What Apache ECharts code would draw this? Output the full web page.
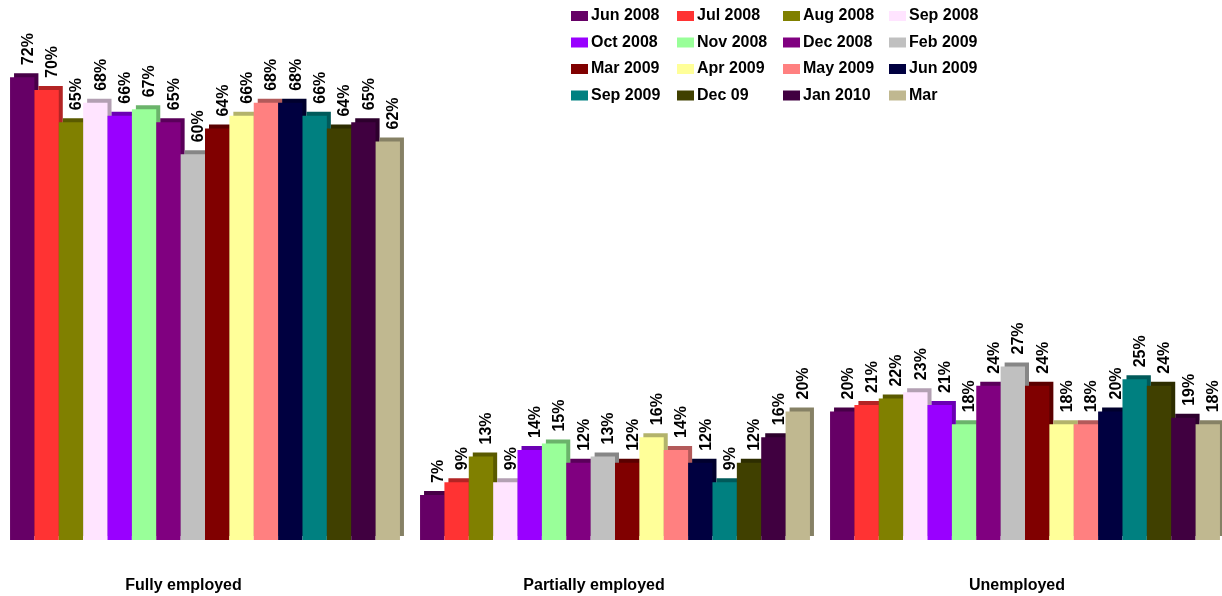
<!DOCTYPE html>
<html>
<head>
<meta charset="utf-8">
<script src="https://cdn.jsdelivr.net/npm/echarts@6/dist/echarts.min.js"></script>
<style>
  html, body { margin: 0; padding: 0; background: #ffffff; overflow: hidden; }
  #chart { width: 1230px; height: 596px; }
</style>
</head>
<body>
<div id="chart"></div>
<script>
// Employment status by survey wave
const categories = ['Fully employed', 'Partially employed', 'Unemployed'];

const waves = [
  'Jun 2008', 'Jul 2008', 'Aug 2008', 'Sep 2008',
  'Oct 2008', 'Nov 2008', 'Dec 2008', 'Feb 2009',
  'Mar 2009', 'Apr 2009', 'May 2009', 'Jun 2009',
  'Sep 2009', 'Dec 09', 'Jan 2010', 'Mar'
];

// Share (%) per wave: [fully, partially, unemployed]
const jun2008 = [72, 7, 20];
const jul2008 = [70, 9, 21];
const aug2008 = [65, 13, 22];
const sep2008 = [68, 9, 23];
const oct2008 = [66, 14, 21];
const nov2008 = [67, 15, 18];
const dec2008 = [65, 12, 24];
const feb2009 = [60, 13, 27];
const mar2009 = [64, 12, 24];
const apr2009 = [66, 16, 18];
const may2009 = [68, 14, 18];
const jun2009 = [68, 12, 20];
const sep2009 = [66, 9, 25];
const dec09   = [64, 12, 24];
const jan2010 = [65, 16, 19];
const mar2010 = [62, 20, 18];

const waveValues = [
  jun2008, jul2008, aug2008, sep2008, oct2008, nov2008, dec2008, feb2009,
  mar2009, apr2009, may2009, jun2009, sep2009, dec09, jan2010, mar2010
];

const palette = [
  '#660066', '#ff3333', '#808000', '#ffe4ff',
  '#9900ff', '#99ff99', '#800080', '#c0c0c0',
  '#800000', '#ffff99', '#ff8080', '#000040',
  '#008080', '#404000', '#400040', '#c0b890'
];

const FONT = '"Liberation Sans", Arial, sans-serif';

// darker shade used for the bevelled top/side faces
function shade(hex, f) {
  const n = parseInt(hex.slice(1), 16);
  const r = Math.round(((n >> 16) & 255) * f);
  const g = Math.round(((n >> 8) & 255) * f);
  const b = Math.round((n & 255) * f);
  return 'rgb(' + r + ',' + g + ',' + b + ')';
}

const series = waves.map((name, i) => ({
  name: name,
  type: 'bar',
  data: waveValues[i],
  barGap: '0%',
  barCategoryGap: '4.9%',
  itemStyle: {
    color: palette[i],
    shadowColor: shade(palette[i], 0.7),
    shadowBlur: 0,
    shadowOffsetX: 4,
    shadowOffsetY: -4
  },
  label: {
    show: true,
    position: 'top',
    rotate: 90,
    align: 'left',
    verticalAlign: 'middle',
    distance: 12,
    offset: [0, 6],
    formatter: '{c}%',
    color: '#000',
    fontFamily: FONT,
    fontWeight: 'bold',
    fontSize: 16
  },
  emphasis: { disabled: true }
}));

// legend laid out as a 4x4 grid, one vertical legend per column
const legendCols = [571, 677, 783, 889];
const legends = legendCols.map((x, c) => ({
  orient: 'vertical',
  left: x,
  top: 8,
  itemWidth: 17,
  itemHeight: 10,
  itemGap: 10.5,
  padding: 0,
  icon: 'rect',
  selectedMode: false,
  data: [0, 1, 2, 3].map(r => waves[r * 4 + c]),
  itemStyle: { shadowBlur: 0, shadowOffsetX: 0, shadowOffsetY: 0, shadowColor: 'rgba(0,0,0,0)' },
  textStyle: {
    fontFamily: FONT,
    fontWeight: 'bold',
    fontSize: 16,
    lineHeight: 16,
    color: '#000',
    padding: [0, 0, 0, -2]
  }
}));

const chart = echarts.init(document.getElementById('chart'), null, { renderer: 'canvas' });
chart.setOption({
  animation: false,
  backgroundColor: '#ffffff',
  color: palette,
  legend: legends,
  grid: { left: 0, top: 0, right: 0, bottom: 56, containLabel: false },
  xAxis: {
    type: 'category',
    data: categories,
    axisLine: { show: false },
    axisTick: { show: false },
    axisLabel: {
      margin: 38,
      interval: 0,
      color: '#000',
      fontFamily: FONT,
      fontWeight: 'bold',
      fontSize: 16,
      formatter: (v, idx) => '{c' + idx + '|' + v + '}',
      rich: {
        c0: { padding: [0, 43, 0, 0], fontFamily: FONT, fontWeight: 'bold', fontSize: 16, color: '#000' },
        c1: { padding: [0, 42, 0, 0], fontFamily: FONT, fontWeight: 'bold', fontSize: 16, color: '#000' },
        c2: { padding: [0, 16, 0, 0], fontFamily: FONT, fontWeight: 'bold', fontSize: 16, color: '#000' }
      }
    }
  },
  yAxis: {
    type: 'value',
    min: 0,
    max: 84,
    show: false,
    splitLine: { show: false }
  },
  series: series
});
</script>
</body>
</html>
